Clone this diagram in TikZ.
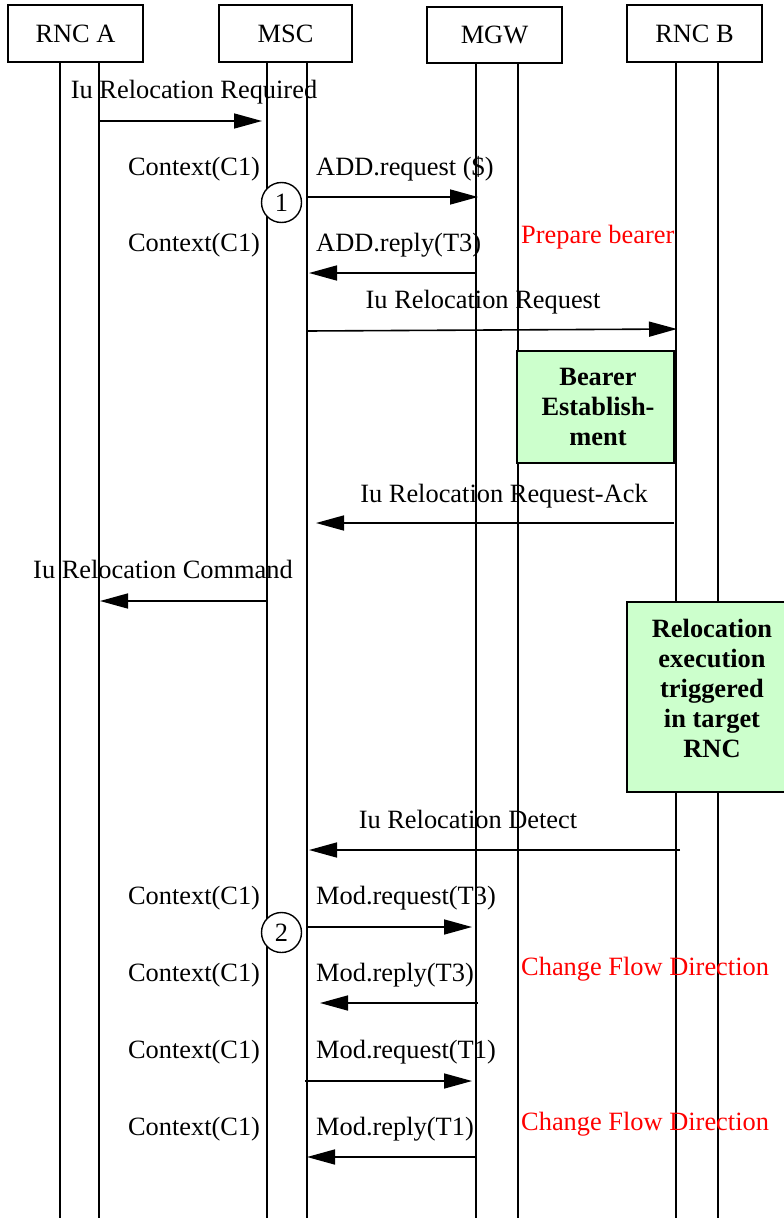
\documentclass[tikz,border=0pt]{standalone}
\usepackage{fontspec}
\setmainfont{Liberation Serif}
\usetikzlibrary{arrows.meta}
\definecolor{actgreen}{RGB}{204,255,204}
\begin{document}
\begin{tikzpicture}[x=1pt,y=-1pt,
  font=\fontsize{26.4}{30}\selectfont,
  entity/.style={draw,line width=1.6pt,minimum width=135pt,minimum height=57pt,inner sep=0pt},
  life/.style={line width=1.3pt},
  msg/.style={line width=1.6pt,-{Triangle[length=28pt,width=15pt]}},
  lbl/.style={inner sep=0pt,anchor=base},
  lblw/.style={inner sep=0pt,anchor=base west},
  note/.style={lblw,text=red},
  stepcirc/.style={draw,circle,fill=white,line width=1.4pt,minimum size=40pt,inner sep=0pt},
  action/.style={draw,line width=1.6pt,fill=actgreen,inner sep=0pt},
  actiontext/.style={inner sep=0pt,anchor=north,align=center,font=\fontsize{26.4}{30}\selectfont\bfseries}
]
\useasboundingbox (0,0) rectangle (784,1218);
\clip (0,0) rectangle (784,1218);

% entities
\node[entity] (rncA) at (75.5,33.5) {RNC A};
\node[entity,minimum width=133pt] (msc) at (285.5,33.5) {MSC};
\node[entity,minimum height=56pt] (mgw) at (494.5,35) {MGW};
\node[entity] (rncB) at (694.5,33.5) {RNC B};

% lifelines (two per entity)
\foreach \x/\n in {60/rncA,99/rncA,267/msc,307/msc,476/mgw,518/mgw,676/rncB,718/rncB}
  \draw[life] (\n.south -| \x,0) -- (\x,1218);

% action boxes
\node[action,minimum width=157pt,minimum height=112pt] (bearer) at (595.5,407) {};
\node[actiontext] (bearertxt) at (598,368) {Bearer\\Establish-\\ment};
\node[action,minimum width=172pt,minimum height=190pt] (reloc) at (713,697) {};
\node[actiontext] (reloctxt) at (712,619) {Relocation\\execution\\triggered\\in target\\RNC};

% step markers
\node[stepcirc] (s1) at (281.5,202.5) {1};
\node[stepcirc] (s2) at (281.5,932.5) {2};

% message end points
\coordinate (m1a) at (99,121);   \coordinate (m1b) at (262,121);
\coordinate (m2a) at (307,197);  \coordinate (m2b) at (478,197);
\coordinate (m3a) at (476,273);  \coordinate (m3b) at (309,273);
\coordinate (m4a) at (307,331);  \coordinate (m4b) at (677,329);
\coordinate (m5a) at (674,523);  \coordinate (m5b) at (316,523);
\coordinate (m6a) at (267,601);  \coordinate (m6b) at (100,601);
\coordinate (m7a) at (680,850);  \coordinate (m7b) at (309,850);
\coordinate (m8a) at (307,927);  \coordinate (m8b) at (472,927);
\coordinate (m9a) at (478,1003); \coordinate (m9b) at (320,1003);
\coordinate (m10a) at (305,1081); \coordinate (m10b) at (472,1081);
\coordinate (m11a) at (476,1157); \coordinate (m11b) at (307,1157);

\draw[msg] (m1a) -- (m1b);
\draw[msg] (m2a) -- (m2b);
\draw[msg] (m3a) -- (m3b);
\draw[msg] (m4a) -- (m4b);
\draw[msg] (m5a) -- (m5b);
\draw[msg] (m6a) -- (m6b);
\draw[msg] (m7a) -- (m7b);
\draw[msg] (m8a) -- (m8b);
\draw[msg] (m9a) -- (m9b);
\draw[msg] (m10a) -- (m10b);
\draw[msg] (m11a) -- (m11b);

% message labels
\node[lbl] (t1) at (194,98) {Iu Relocation Required};
\node[lbl] (c1) at (194,175) {Context(C1)};
\node[lblw] (t2) at (316,175) {ADD.request (\$)};
\node[lbl] (c2) at (194,251) {Context(C1)};
\node[lblw] (t3) at (316,251) {ADD.reply(T3)};
\node[note] (n1) at (521,243) {Prepare bearer};
\node[lbl] (t4) at (483,308) {Iu Relocation Request};
\node[lbl] (t5) at (504,502) {Iu Relocation Request-Ack};
\node[lbl] (t6) at (163,578) {Iu Relocation Command};
\node[lbl] (t7) at (468,828) {Iu Relocation Detect};
\node[lbl] (c3) at (194,904) {Context(C1)};
\node[lblw] (t8) at (316,904) {Mod.request(T3)};
\node[lbl] (c4) at (194,981) {Context(C1)};
\node[lblw] (t9) at (316,981) {Mod.reply(T3)};
\node[note] (n2) at (521,975) {Change Flow Direction};
\node[lbl] (c5) at (194,1058) {Context(C1)};
\node[lblw] (t10) at (316,1058) {Mod.request(T1)};
\node[lbl] (c6) at (194,1135) {Context(C1)};
\node[lblw] (t11) at (316,1135) {Mod.reply(T1)};
\node[note] (n3) at (521,1130) {Change Flow Direction};
\end{tikzpicture}
\end{document}
